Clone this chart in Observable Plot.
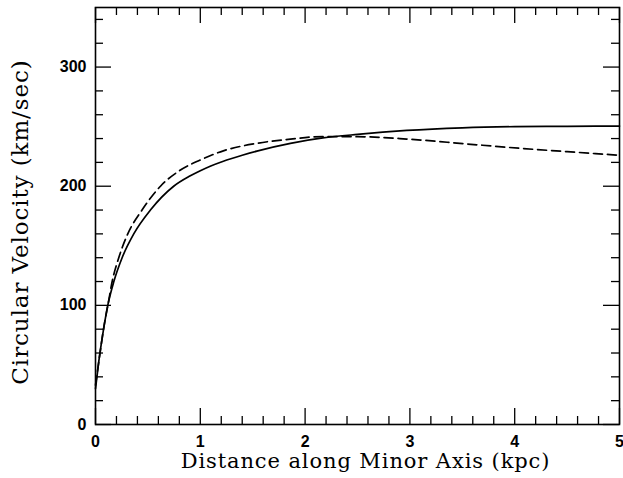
<!DOCTYPE html>
<html><head><meta charset="utf-8">
<script src="https://cdn.jsdelivr.net/npm/d3@7"></script>
<script src="https://cdn.jsdelivr.net/npm/@observablehq/plot@0.6"></script>
<style>html,body{margin:0;padding:0;background:#fff}</style>
</head><body><div id="chart"></div>
<script>
// Solid curve (model rotation curve)
const solidDistance = [0, 0.03, 0.07, 0.117, 0.175, 0.254, 0.365, 0.524, 0.746, 0.9, 1.0, 1.1, 1.22, 1.4, 1.54, 1.86, 2.17, 2.5, 2.97, 3.5, 4.0, 4.5, 5.0];
const solidVelocity = [30, 52, 76, 100, 120, 140, 160, 180, 200, 208.5, 213, 217, 221, 226, 229.5, 236, 240.5, 243.5, 246.8, 249, 250, 250.3, 250.5];
// Dashed curve
const dashedDistance = [0, 0.04, 0.08, 0.12, 0.159, 0.222, 0.308, 0.444, 0.62, 0.8, 1.0, 1.22, 1.54, 1.86, 2.17, 2.5, 2.97, 3.54, 3.95, 4.5, 5.0];
const dashedVelocity = [33, 58, 82, 101, 120, 140, 160, 180, 200, 213, 222, 229.7, 236, 239.5, 241.7, 241.6, 239.6, 235.5, 232.5, 229, 226];

const xTickValues = [0, 1, 2, 3, 4, 5];
const xMinorTicks = [0.2, 0.4, 0.6, 0.8, 1.2, 1.4, 1.6, 1.8, 2.2, 2.4, 2.6, 2.8, 3.2, 3.4, 3.6, 3.8, 4.2, 4.4, 4.6, 4.8];
const yTickValues = [0, 100, 200, 300];
const yMinorTicks = [20, 40, 60, 80, 120, 140, 160, 180, 220, 240, 260, 280, 320, 340];
const xTitle = "Distance along Minor Axis (kpc)";
const yTitle = "Circular Velocity (km/sec)";

const W = 623, H = 478, mL = 95, mR = 4, mT = 7, mB = 54;
const fw = W - mL - mR, fh = H - mT - mB;
const solid = solidDistance.map((d, i) => ({d, v: solidVelocity[i]}));
const dashed = dashedDistance.map((d, i) => ({d, v: dashedVelocity[i]}));
const majorLen = 16, minorLen = 8;
const tickFont = "'Liberation Sans', Arial, sans-serif";
const titleFont = "'DejaVu Serif', serif";

const chart = Plot.plot({
  width: W, height: H,
  marginLeft: mL, marginRight: mR, marginTop: mT, marginBottom: mB,
  x: {domain: [0, 5], label: null},
  y: {domain: [0, 350], label: null},
  style: {background: "white", color: "black"},
  marks: [
    Plot.line(solid, {x: "d", y: "v", stroke: "black", strokeWidth: 1.7, curve: "monotone-x"}),
    Plot.line(dashed, {x: "d", y: "v", stroke: "black", strokeWidth: 1.7, strokeDasharray: "9,5", curve: "monotone-x"}),
    // bottom ticks
    Plot.tickX(xTickValues, {x: d => d, insetTop: fh - majorLen, stroke: "black", strokeWidth: 1.3}),
    Plot.tickX(xMinorTicks, {x: d => d, insetTop: fh - minorLen, stroke: "black", strokeWidth: 1.3}),
    // top ticks
    Plot.tickX(xTickValues, {x: d => d, insetBottom: fh - majorLen, stroke: "black", strokeWidth: 1.3}),
    Plot.tickX(xMinorTicks, {x: d => d, insetBottom: fh - minorLen, stroke: "black", strokeWidth: 1.3}),
    // left ticks
    Plot.tickY(yTickValues, {y: d => d, insetRight: fw - majorLen, stroke: "black", strokeWidth: 1.3}),
    Plot.tickY(yMinorTicks, {y: d => d, insetRight: fw - minorLen, stroke: "black", strokeWidth: 1.3}),
    // right ticks
    Plot.tickY(yTickValues, {y: d => d, insetLeft: fw - majorLen, stroke: "black", strokeWidth: 1.3}),
    Plot.tickY(yMinorTicks, {y: d => d, insetLeft: fw - minorLen, stroke: "black", strokeWidth: 1.3}),
    Plot.frame({stroke: "black", strokeWidth: 1.6}),
    Plot.axisX(xTickValues, {tickSize: 0, tickPadding: 11, fontSize: 16, fontWeight: "bold", fontFamily: tickFont, label: null, tickFormat: d => String(d)}),
    Plot.axisY(yTickValues, {tickSize: 0, tickPadding: 9, fontSize: 16, fontWeight: "bold", fontFamily: tickFont, label: null, tickFormat: d => String(d)}),
    Plot.text([xTitle], {frameAnchor: "bottom", textAnchor: "middle", lineAnchor: "middle", dy: 37, dx: 8, fontSize: 21, fontFamily: titleFont, fill: "black", className: "title-text"}),
    Plot.text([yTitle], {frameAnchor: "left", textAnchor: "middle", lineAnchor: "middle", dx: -75, dy: 6, rotate: -90, fontSize: 23, fontFamily: titleFont, fill: "black", className: "title-text"})
  ]
});
d3.select(chart).selectAll(".title-text text").style("letter-spacing", "0.9px");
document.getElementById("chart").appendChild(chart);
</script>
</body></html>
